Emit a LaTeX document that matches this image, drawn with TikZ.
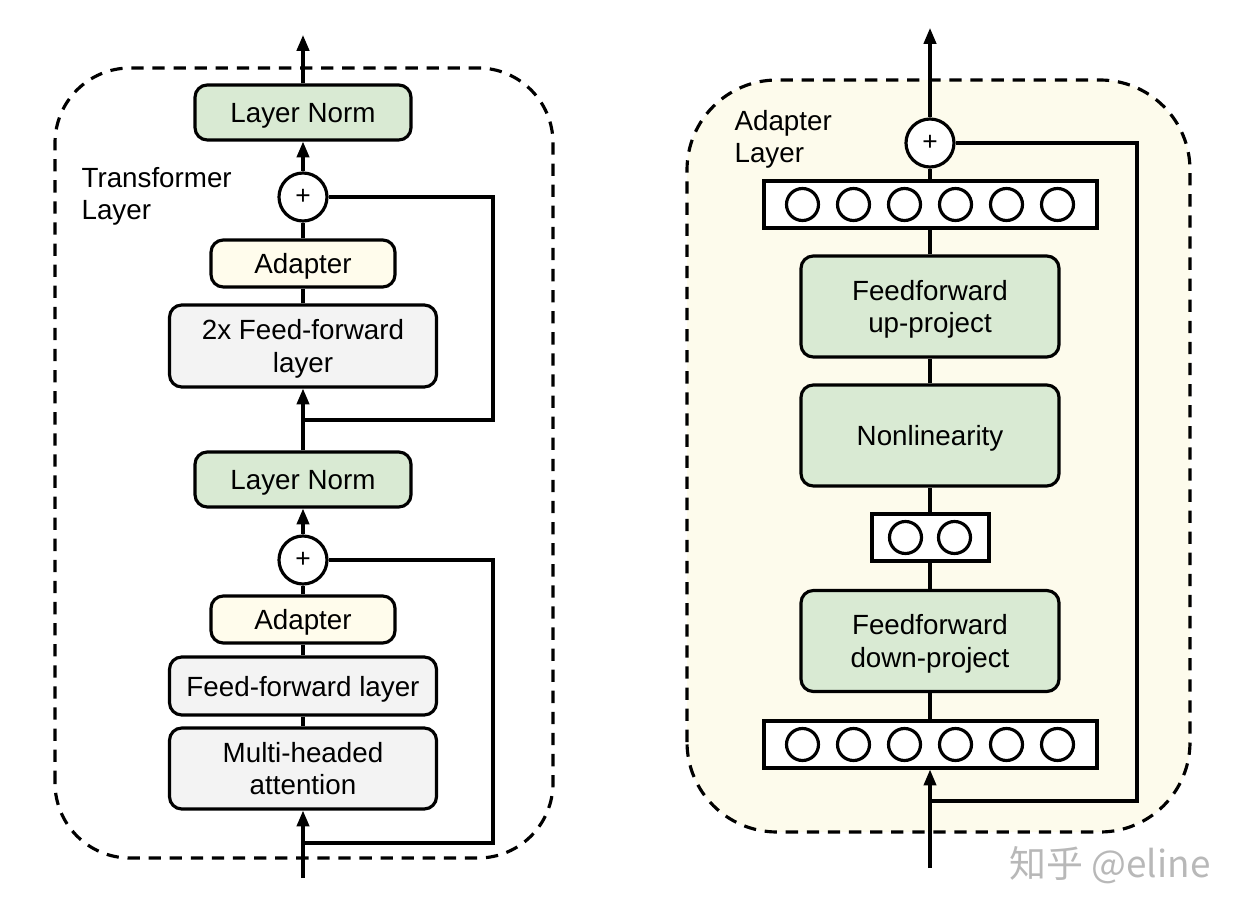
\documentclass[tikz,border=0pt]{standalone}
\usepackage{fontspec}
\setmainfont{Liberation Sans}
\newfontfamily\zhfont{Noto Sans CJK SC}
\usepackage{xcolor}
\usetikzlibrary{arrows.meta,shapes,calc,positioning}
\definecolor{normgreen}{HTML}{D9EAD3}
\definecolor{adaptyellow}{HTML}{FFFCEC}
\definecolor{layergray}{HTML}{F3F3F3}
\definecolor{panelyellow}{HTML}{FDFBEC}

\begin{document}
\begin{tikzpicture}[line width=1.8pt, >={Triangle[length=9pt,width=7pt]}]
	\tikzstyle{every node}=[font=\fontsize{15.8}{18.3}\selectfont]
	\tikzstyle{block}=[draw, rounded corners=7pt, align=center, inner sep=0pt, text depth=0pt]
	\tikzstyle{norm}=[block, fill=normgreen, minimum width=4.32cm, minimum height=1.1cm]
	\tikzstyle{adapt}=[block, fill=adaptyellow, minimum width=3.68cm, minimum height=0.94cm]
	\tikzstyle{sub}=[block, fill=layergray, minimum width=5.34cm]
	\tikzstyle{proj}=[block, fill=normgreen, minimum width=5.16cm, minimum height=2.02cm]
	\tikzstyle{plus}=[draw, circle, fill=white, minimum size=0.96cm, inner sep=0pt, font=\fontsize{15}{17}\selectfont]
	\tikzstyle{vec}=[draw, fill=white, minimum height=0.94cm, inner sep=0pt]
	\tikzstyle{unit}=[draw, circle, minimum size=0.64cm, inner sep=0pt]
	\tikzstyle{panel}=[dash pattern=on 7pt off 5pt]
	\tikzstyle{tag}=[anchor=west, align=left, inner sep=0pt]
	\useasboundingbox (0,0) rectangle (24.88,18.32);

	% dashed frames
	\draw [panel, rounded corners=1.5cm] (1.1,1.16) rectangle (11.06,16.96);
	\draw [panel, fill=panelyellow, rounded corners=1.8cm] (13.74,1.68) rectangle (23.8,16.72);

	% transformer layer
	\node [tag] (tlabel) at (1.6,14.39) {Transformer\\Layer};
	\node (ln1) at (6.06,16.07) [norm] {Layer Norm};
	\node (plus1) at (6.06,14.38) [plus] {+};
	\node (adp1) at (6.06,13.05) [adapt] {Adapter};
	\node (ff2) at (6.06,11.4) [sub, minimum height=1.64cm] {2x Feed-forward\\layer};
	\node (ln2) at (6.06,8.73) [norm] {Layer Norm};
	\node (plus2) at (6.06,7.12) [plus] {+};
	\node (adp2) at (6.06,5.93) [adapt] {Adapter};
	\node (ff1) at (6.06,4.6) [sub, minimum height=1.16cm] {Feed-forward layer};
	\node (mha) at (6.06,2.95) [sub, minimum height=1.62cm] {Multi-headed\\attention};
	\coordinate (out1) at (6.06,17.62);
	\coordinate (in1) at (6.06,0.76);
	\coordinate (sk1) at (9.86,9.92);
	\coordinate (jn1) at (6.06,9.92);
	\coordinate (sk2) at (9.86,1.46);
	\coordinate (jn2) at (6.06,1.46);

	\draw [->] (ln1.north) -- (out1);
	\draw [->] (plus1.north) -- (ln1.south);
	\draw (adp1.north) -- (plus1.south);
	\draw (ff2.north) -- (adp1.south);
	\draw [->] (ln2.north) -- (ff2.south);
	\draw (plus1.east) -| (sk1) -- (jn1);
	\draw [->] (plus2.north) -- (ln2.south);
	\draw (adp2.north) -- (plus2.south);
	\draw (ff1.north) -- (adp2.south);
	\draw (mha.north) -- (ff1.south);
	\draw [->] (in1) -- (mha.south);
	\draw (plus2.east) -| (sk2) -- (jn2);

	% adapter layer
	\node [tag] (alabel) at (14.66,15.54) {Adapter\\Layer};
	\node (plus3) at (18.6,15.46) [plus] {+};
	\node (vtop) at (18.61,14.23) [vec, minimum width=6.66cm] {};
	\node (up) at (18.6,12.19) [proj] {Feedforward\\up-project};
	\node (nonlin) at (18.6,9.61) [proj] {Nonlinearity};
	\node (vmid) at (18.61,7.57) [vec, minimum width=2.34cm] {};
	\node (down) at (18.6,5.5) [proj] {Feedforward\\down-project};
	\node (vbot) at (18.61,3.43) [vec, minimum width=6.66cm] {};
	\foreach \k in {0,...,5} {
		\node (t\k) at (16.05+1.02*\k,14.23) [unit] {};
		\node (b\k) at (16.05+1.02*\k,3.43) [unit] {};
	}
	\node (m0) at (18.11,7.57) [unit] {};
	\node (m1) at (19.09,7.57) [unit] {};
	\coordinate (out2) at (18.6,17.76);
	\coordinate (in2) at (18.6,0.96);
	\coordinate (sk3) at (22.74,2.3);
	\coordinate (jn3) at (18.6,2.3);

	\draw [->] (plus3.north) -- (out2);
	\draw (vtop.north -| plus3) -- (plus3.south);
	\draw (up.north) -- (vtop.south -| up);
	\draw (nonlin.north) -- (up.south);
	\draw (vmid.north -| nonlin) -- (nonlin.south);
	\draw (down.north) -- (vmid.south -| down);
	\draw (vbot.north -| down) -- (down.south);
	\draw [->] (in2) -- (vbot.south -| in2);
	\draw (plus3.east) -| (sk3) -- (jn3);

	% watermark
	\node (mark) at (22.2,1.02) [text=black!28, font=\zhfont\fontsize{21}{24}\selectfont] {知乎 @eline};
\end{tikzpicture}
\end{document}
